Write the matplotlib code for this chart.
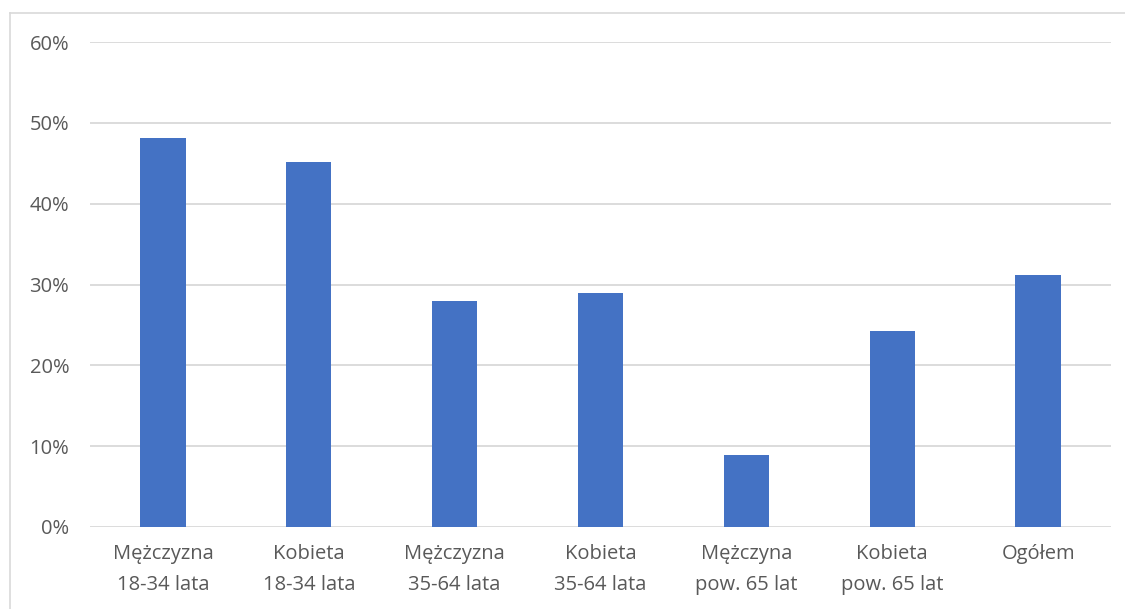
import matplotlib
matplotlib.use("Agg")
import matplotlib.pyplot as plt
from matplotlib.lines import Line2D
from matplotlib.ticker import FuncFormatter

categories = ["Mężczyzna\n18-34 lata", "Kobieta\n18-34 lata", "Mężczyzna\n35-64 lata",
              "Kobieta\n35-64 lata", "Mężczyna\npow. 65 lat", "Kobieta\npow. 65 lat", "Ogółem"]
values = [0.481, 0.452, 0.280, 0.290, 0.089, 0.242, 0.312]
yticks = [0, 0.1, 0.2, 0.3, 0.4, 0.5, 0.6]

plt.rcParams["font.family"] = ["Open Sans", "DejaVu Sans"]
W, H = 1125, 609
fig = plt.figure(figsize=(W / 100, H / 100), dpi=100)
ax = fig.add_axes([90 / W, 1 - 527 / H, (1111 - 90) / W, (527 - 42) / H])

x = range(len(categories))
ax.bar(x, values, width=0.31, color="#4472C4", zorder=3)
ax.set_xlim(-0.5, len(categories) - 0.5)
ax.set_ylim(0, 0.6)
ax.set_yticks(yticks)
ax.yaxis.set_major_formatter(FuncFormatter(lambda v, _: f"{v * 100:.0f}%"))
ax.set_xticks(list(x))
ax.set_xticklabels(categories, linespacing=1.75)
ax.grid(axis="y", color="#d9d9d9", linewidth=1.3, zorder=0)
for s in ax.spines.values():
    s.set_visible(False)
ax.tick_params(axis="both", length=0, colors="#595959", labelsize=14.5)
ax.tick_params(axis="y", pad=15)
ax.tick_params(axis="x", pad=12)

# chart area frame (top and left edges visible)
fig.add_artist(Line2D([10 / W, 1], [1 - 13 / H, 1 - 13 / H], color="#d9d9d9", lw=1.2))
fig.add_artist(Line2D([10 / W, 10 / W], [0, 1 - 13 / H], color="#d9d9d9", lw=1.2))

fig.savefig("out.png", dpi=100)
